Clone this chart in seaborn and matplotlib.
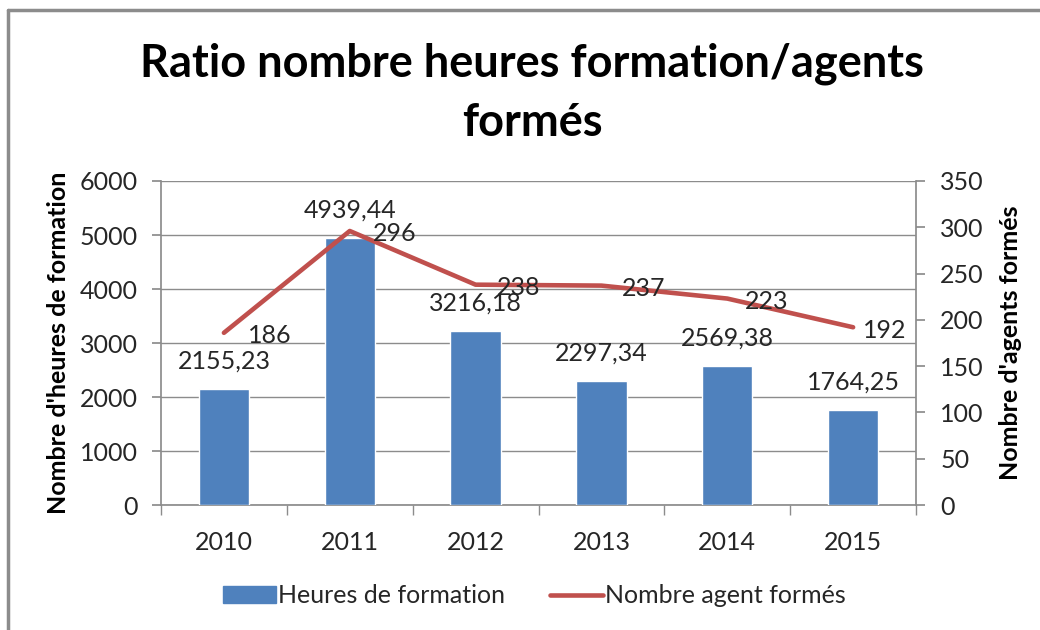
import numpy as np
import pandas as pd
import seaborn as sns
import matplotlib.pyplot as plt
from matplotlib.lines import Line2D
from matplotlib.patches import Patch

# data
years = ['2010', '2011', '2012', '2013', '2014', '2015']
heures = [2155.23, 4939.44, 3216.18, 2297.34, 2569.38, 1764.25]
heures_labels = ['2155,23', '4939,44', '3216,18', '2297,34', '2569,38', '1764,25']
agents = [186, 296, 238, 237, 223, 192]

BLUE = '#4F81BD'
RED = '#C0504D'
GRID = '#8C8C8C'
TEXT = '#262626'
FS = 18

sns.set_theme(style='white')
plt.rcParams['font.family'] = ['Lato', 'DejaVu Sans']

df = pd.DataFrame({'annee': years, 'heures': heures, 'agents': agents})

fig = plt.figure(figsize=(10.4, 6.3), dpi=100)
ax = fig.add_axes([0.1548, 0.1984, 0.726, 0.5143])

sns.barplot(data=df, x='annee', y='heures', color=BLUE, width=0.4,
            saturation=1, ax=ax, zorder=3)
ax.set_ylim(0, 6000)
ax.set_yticks(np.arange(0, 6001, 1000))
ax.set_xlim(-0.5, len(years) - 0.5)
ax.yaxis.grid(True, color=GRID, linewidth=1, zorder=0)
ax.set_axisbelow(True)

ax2 = ax.twinx()
sns.lineplot(data=df, x='annee', y='agents', color=RED, linewidth=3.3,
             ax=ax2, sort=False, zorder=4)
ax2.set_ylim(0, 350)
ax2.set_yticks(np.arange(0, 351, 50))

# bar value labels
for i, (v, lab) in enumerate(zip(heures, heures_labels)):
    ax.annotate(lab, (i, v), xytext=(0, 20), textcoords='offset points',
                ha='center', va='center', fontsize=FS, color=TEXT, zorder=6)

# line value labels
offsets = [17, 17, 15, 15, 13, 7]
for i, v in enumerate(agents):
    ax2.annotate(str(v), (i, v), xytext=(offsets[i], -2), textcoords='offset points',
                 ha='left', va='center', fontsize=FS, color=TEXT, zorder=6)

for a in (ax, ax2):
    for s in a.spines.values():
        s.set_visible(False)
    a.set_xlabel('')

ax.spines['left'].set_visible(True)
ax.spines['left'].set_color(GRID)
ax.spines['bottom'].set_visible(True)
ax.spines['bottom'].set_color(GRID)
ax2.spines['right'].set_visible(True)
ax2.spines['right'].set_color(GRID)

# x ticks between categories
ax.set_xticks(np.arange(len(years)))
ax.set_xticklabels(years)
ax.set_xticks(np.arange(-0.5, len(years), 1), minor=True)
ax.tick_params(axis='x', which='major', length=0, pad=19, labelsize=FS, labelcolor=TEXT)
ax.tick_params(axis='x', which='minor', length=7, color=GRID, direction='out', bottom=True)
ax.tick_params(axis='y', length=6.5, color=GRID, direction='out', left=True,
               labelsize=FS, labelcolor=TEXT, pad=10)
ax2.tick_params(axis='y', length=6.5, color=GRID, direction='out', right=True,
                labelsize=FS, labelcolor=TEXT, pad=11)

ax.set_ylabel("Nombre d'heures de formation", fontsize=FS, fontweight='bold',
              color='black', labelpad=7)
ax2.set_ylabel("Nombre d'agents formés", fontsize=FS, fontweight='bold',
               color='black', labelpad=11)

fig.suptitle('Ratio nombre heures formation/agents\nformés', x=0.512, y=0.933,
             fontsize=32.5, fontweight='bold', color='black', linespacing=1.5)

handles = [Patch(facecolor=BLUE, edgecolor=BLUE),
           Line2D([0], [0], color=RED, linewidth=3.3)]
fig.legend(handles, ['Heures de formation', 'Nombre agent formés'],
           loc='center', bbox_to_anchor=(0.514, 0.054), ncol=2, frameon=False,
           fontsize=FS, handlelength=2.1, handleheight=0.7, columnspacing=1.8,
           handletextpad=0.1, labelcolor=TEXT)

# outer chart frame (top and left edges visible)
fig.add_artist(Line2D([0.008, 0.008], [0, 0.984], color='#8C8C8C', linewidth=2.5,
                      transform=fig.transFigure))
fig.add_artist(Line2D([0.008, 1], [0.984, 0.984], color='#8C8C8C', linewidth=2.5,
                      transform=fig.transFigure))

fig.savefig('out.png', dpi=100)
